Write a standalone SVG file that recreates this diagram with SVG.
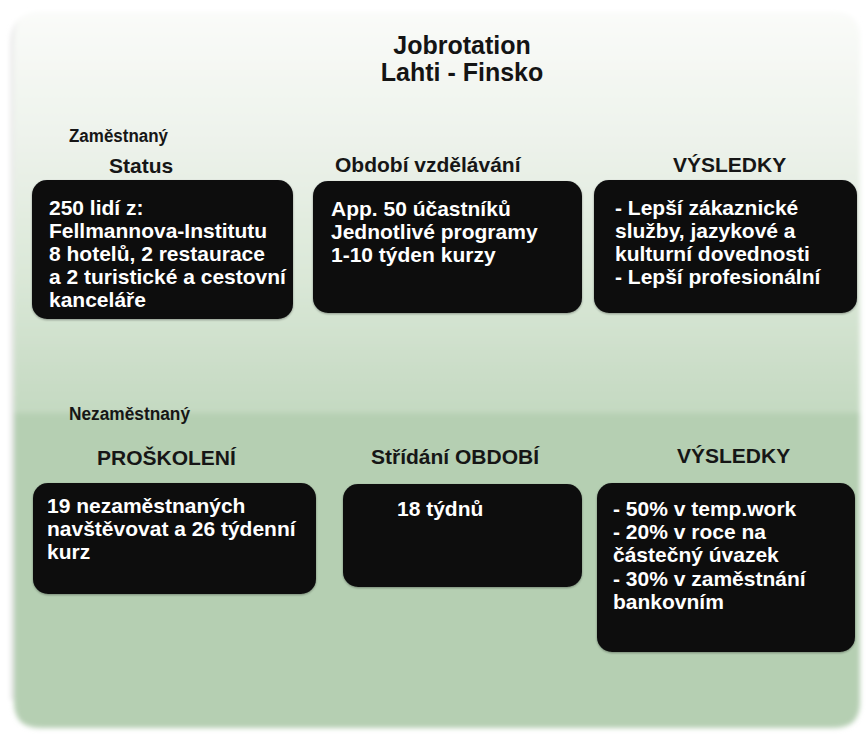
<svg xmlns="http://www.w3.org/2000/svg" width="868" height="740" viewBox="0 0 868 740">
  <defs>
    <linearGradient id="upperFill" x1="0" y1="0" x2="0" y2="1">
      <stop offset="0" stop-color="#fafbf9"/>
      <stop offset="0.3" stop-color="#eef3ec"/>
      <stop offset="0.65" stop-color="#dbe8d8"/>
      <stop offset="1" stop-color="#c4d9c1"/>
    </linearGradient>
    <filter id="soft" x="-5%" y="-5%" width="110%" height="110%">
      <feGaussianBlur stdDeviation="2.5"/>
    </filter>
    <filter id="shade" x="-10%" y="-10%" width="120%" height="130%">
      <feDropShadow dx="0" dy="1" stdDeviation="1.2" flood-color="#000" flood-opacity="0.35"/>
    </filter>
  </defs>
  <style>
    .title { font-family: "Liberation Sans", Arial, sans-serif; font-weight: bold; font-size: 25px; fill: #141414; text-anchor: middle; }
    .label { font-family: "Liberation Sans", Arial, sans-serif; font-weight: bold; font-size: 21px; fill: #161616; }
    .group { font-family: "Liberation Sans", Arial, sans-serif; font-weight: bold; font-size: 18px; fill: #161616; }
    .box { fill: #0a0b0c; filter: url(#shade); }
    .body { font-family: "Liberation Sans", Arial, sans-serif; font-weight: bold; font-size: 21px; fill: #ffffff; }
  </style>

  <rect width="868" height="740" fill="#ffffff"/>

  <!-- background panel: light upper band, green lower band -->
  <g id="panel" filter="url(#soft)">
    <path d="M12 700 V44 Q12 16 38 14" fill="none" stroke="#e4e4e4" stroke-width="3"/>
    <path d="M14 413 V38 Q14 12 40 12 H834 Q860 12 860 38 V413 Z" fill="url(#upperFill)"/>
    <path d="M14 413 H860 V702 Q860 728 834 728 H40 Q14 728 14 702 Z" fill="#b5cfb2"/>
  </g>

  <g id="title">
    <text class="title" x="462" y="54">Jobrotation</text>
    <text class="title" x="462" y="81">Lahti - Finsko</text>
  </g>

  <!-- employed row -->
  <g id="employed-label">
    <text class="group" x="69" y="142" textLength="99" lengthAdjust="spacingAndGlyphs">Zaměstnaný</text>
  </g>

  <g id="status">
    <text class="label" x="109" y="173">Status</text>
    <rect class="box" x="32" y="180" width="261" height="139" rx="15"/>
    <text class="body" x="49" y="215">250 lidí z:</text>
    <text class="body" x="49" y="238">Fellmannova-Institutu</text>
    <text class="body" x="49" y="261">8 hotelů, 2 restaurace</text>
    <text class="body" x="49" y="284">a 2 turistické a cestovní</text>
    <text class="body" x="49" y="307">kanceláře</text>
  </g>

  <g id="training-period">
    <text class="label" x="335" y="172">Období vzdělávání</text>
    <rect class="box" x="313" y="181" width="269" height="132" rx="15"/>
    <text class="body" x="331" y="216">App. 50 účastníků</text>
    <text class="body" x="331" y="239">Jednotlivé programy</text>
    <text class="body" x="331" y="262">1-10 týden kurzy</text>
  </g>

  <g id="results-employed">
    <text class="label" x="673" y="172">VÝSLEDKY</text>
    <rect class="box" x="594" y="180" width="263" height="133" rx="15"/>
    <text class="body" x="615" y="215">- Lepší zákaznické</text>
    <text class="body" x="615" y="238">služby, jazykové a</text>
    <text class="body" x="615" y="261">kulturní dovednosti</text>
    <text class="body" x="615" y="284">- Lepší profesionální</text>
  </g>

  <!-- unemployed row -->
  <g id="unemployed-label">
    <text class="group" x="69" y="420" textLength="121" lengthAdjust="spacingAndGlyphs">Nezaměstnaný</text>
  </g>

  <g id="training">
    <text class="label" x="97" y="465">PROŠKOLENÍ</text>
    <rect class="box" x="33" y="483" width="283" height="111" rx="15"/>
    <text class="body" x="47" y="513">19 nezaměstnaných</text>
    <text class="body" x="47" y="536">navštěvovat a 26 týdenní</text>
    <text class="body" x="47" y="559">kurz</text>
  </g>

  <g id="rotation-period">
    <text class="label" x="371" y="464">Střídání OBDOBÍ</text>
    <rect class="box" x="343" y="484" width="239" height="103" rx="15"/>
    <text class="body" x="397" y="516">18 týdnů</text>
  </g>

  <g id="results-unemployed">
    <text class="label" x="677" y="463">VÝSLEDKY</text>
    <rect class="box" x="597" y="483" width="258" height="169" rx="15"/>
    <text class="body" x="613" y="516">- 50% v temp.work</text>
    <text class="body" x="613" y="539">- 20% v roce na</text>
    <text class="body" x="613" y="562">částečný úvazek</text>
    <text class="body" x="613" y="586">- 30% v zaměstnání</text>
    <text class="body" x="613" y="609">bankovním</text>
  </g>

  <g id="connectors"/>
</svg>
